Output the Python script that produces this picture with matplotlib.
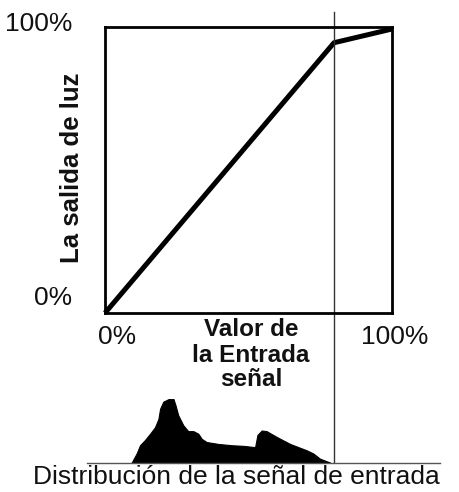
import matplotlib
matplotlib.use('Agg')
import matplotlib.pyplot as plt

plt.rcParams['font.family'] = ['Liberation Sans', 'DejaVu Sans']

W, H = 459, 492

# transfer curve: input fraction -> light output fraction
curve_x = [0.0, 0.798, 1.0]
curve_y = [0.0, 0.945, 0.993]
knee_x = 0.798

# input signal distribution (relative height)
dist_x = [0.093, 0.110, 0.122, 0.139, 0.157, 0.174, 0.186, 0.192, 0.203, 0.221,
          0.238, 0.246, 0.255, 0.273, 0.290, 0.308, 0.325, 0.337, 0.354, 0.395,
          0.441, 0.482, 0.523, 0.531, 0.546, 0.563, 0.598, 0.645, 0.703, 0.726,
          0.749, 0.772, 0.784]
dist_h = [0.0, 0.14, 0.27, 0.35, 0.45, 0.55, 0.68, 0.84, 0.95, 0.99,
          1.0, 0.89, 0.74, 0.58, 0.49, 0.49, 0.45, 0.37, 0.32, 0.29,
          0.27, 0.26, 0.24, 0.43, 0.50, 0.49, 0.40, 0.29, 0.19, 0.14,
          0.06, 0.02, 0.0]

fig = plt.figure(figsize=(W / 100, H / 100), dpi=100)

def px(x, y):
    return x / W, 1 - y / H

# main box
ax = fig.add_axes([105 / W, 1 - 313 / H, 287 / W, 286 / H])
ax.plot(curve_x, curve_y, color='black', lw=3.6, solid_capstyle='butt', clip_on=False)
ax.set_xlim(0, 1)
ax.set_ylim(0, 1)
ax.set_xticks([])
ax.set_yticks([])
for s in ax.spines.values():
    s.set_linewidth(2.0)
    s.set_color('black')
# thin marker line through everything
ax.plot([knee_x, knee_x], [-(462 - 313) / 286, (313 - 12) / 286],
        color='#333333', lw=1.0, clip_on=False)

# histogram
hx = fig.add_axes([105 / W, 1 - 462.5 / H, 287 / W, 64 / H])
hx.fill_between(dist_x, 0, dist_h, color='black', lw=0.8, edgecolor='black')
hx.set_xlim(0, 1)
hx.set_ylim(0, 1.0)
hx.axis('off')
hx.patch.set_visible(False)
hx.plot([(87 - 105) / 287, (440 - 105) / 287], [0, 0], color='#555555', lw=1.0, clip_on=False)

# labels
tc = '#111111'
fig.text(*px(72, 24), '100%', ha='right', va='center', fontsize=19, color=tc)
fig.text(*px(72, 298), '0%', ha='right', va='center', fontsize=19, color=tc)
fig.text(*px(117, 337), '0%', ha='center', va='center', fontsize=19, color=tc)
fig.text(*px(395, 337), '100%', ha='center', va='center', fontsize=19, color=tc)
fig.text(*px(251, 330), 'Valor de', ha='center', va='center', fontsize=17.5, fontweight='bold', color=tc)
fig.text(*px(251, 355), 'la Entrada', ha='center', va='center', fontsize=17.5, fontweight='bold', color=tc)
fig.text(*px(251, 379), 'señal', ha='center', va='center', fontsize=17.5, fontweight='bold', color=tc)
fig.text(*px(72, 168), 'La salida de luz', ha='center', va='center', rotation=90,
         fontsize=18.5, fontweight='bold', color=tc)
fig.text(*px(236, 477), 'Distribución de la señal de entrada', ha='center', va='center',
         fontsize=19, color=tc)

fig.savefig('out.png', dpi=100)
